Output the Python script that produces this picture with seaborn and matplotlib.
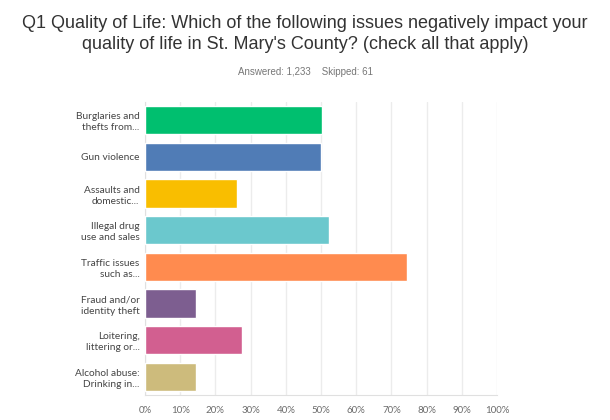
import matplotlib
matplotlib.use("Agg")
import matplotlib.pyplot as plt
import seaborn as sns
import pandas as pd

# Survey answers (share of respondents, %)
issues = ["Burglaries and\nthefts from...", "Gun violence", "Assaults and\ndomestic...",
          "Illegal drug\nuse and sales", "Traffic issues\nsuch as...", "Fraud and/or\nidentity theft",
          "Loitering,\nlittering or...", "Alcohol abuse:\nDrinking in..."]
shares = [50.2, 50.0, 26.0, 52.4, 74.3, 14.4, 27.5, 14.4]
bar_colors = ["#00BF6F", "#507CB6", "#F9BE00", "#6BC8CD", "#FF8B4F", "#7D5E90", "#D25F90", "#CDBB7C"]
x_ticks = [0, 10, 20, 30, 40, 50, 60, 70, 80, 90, 100]

df = pd.DataFrame({"issue": issues, "share": shares})

sns.set_style("white")
plt.rcParams['font.family'] = ['Liberation Sans', 'DejaVu Sans']

fig = plt.figure(figsize=(6.1, 4.2), dpi=100)
ax = fig.add_axes([145 / 610, 25 / 420, 352 / 610, 293 / 420])

sns.barplot(data=df, y="issue", x="share", hue="issue", palette=bar_colors,
            legend=False, width=0.77, saturation=1, ax=ax, zorder=3)

ax.set_xlim(0, 100)
ax.set_ylim(7.5, -0.5)
ax.set_xticks(x_ticks)
ax.set_xticklabels([f"{t}%" for t in x_ticks], fontsize=7, color="#6b6b6b", family="Lato")
ax.tick_params(axis="x", length=0, pad=8)
ax.tick_params(axis="y", length=0, pad=4)
for lbl in ax.get_yticklabels():
    lbl.set_fontsize(7.3)
    lbl.set_color("#444444")
    lbl.set_family("Lato")
    lbl.set_multialignment("right")
    lbl.set_linespacing(1.3)
ax.set_xlabel("")
ax.set_ylabel("")
ax.grid(axis="x", color="#ececec", linewidth=1, zorder=0)
for side in ["top", "right"]:
    ax.spines[side].set_visible(False)
ax.spines["left"].set_color("#e0e0e0")
ax.spines["bottom"].set_color("#e0e0e0")

fig.text(0.5, 1 - 34 / 420, "Q1 Quality of Life: Which of the following issues negatively impact your\nquality of life in St. Mary's County? (check all that apply)",
         ha="center", va="center", fontsize=13, color="#333333", linespacing=1.3)
fig.text(0.5, 1 - 72 / 420, "Answered: 1,233    Skipped: 61", ha="center", va="center",
         fontsize=7, color="#777777")

fig.savefig("out.png", dpi=100, facecolor="white")
